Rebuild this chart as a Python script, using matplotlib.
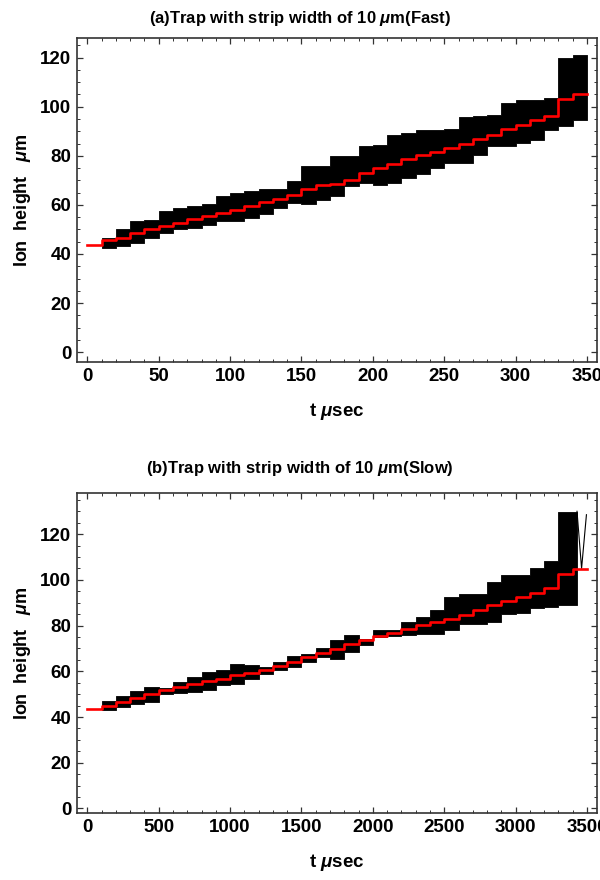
import numpy as np
import matplotlib
matplotlib.use("Agg")
import matplotlib.pyplot as plt
from matplotlib.ticker import MultipleLocator

plt.rcParams['font.family'] = ['Liberation Sans', 'DejaVu Sans']
plt.rcParams['font.weight'] = 'bold'
plt.rcParams['mathtext.fontset'] = 'custom'
plt.rcParams['mathtext.it'] = 'Liberation Sans:italic:bold'
plt.rcParams['mathtext.rm'] = 'Liberation Sans:bold'
plt.rcParams['mathtext.bf'] = 'Liberation Sans:bold'

# ---------------- Panel (a): fast transport ----------------
a_step_t = [0, 10, 20, 30, 40, 50, 60, 70, 80, 90, 100, 110, 120, 130, 140, 150, 160,
            170, 180, 190, 200, 210, 220, 230, 240, 250, 260, 270, 280, 290, 300,
            310, 320, 330, 340, 350]
a_step_v = [43.5, 45.6, 46.7, 48.4, 50.0, 51.5, 52.7, 54.1, 55.4, 56.8, 58.1, 59.5,
            61.0, 62.6, 64.2, 66.3, 68.0, 68.5, 70.3, 73.2, 75.1, 76.8, 78.5, 80.2,
            81.7, 83.2, 85.0, 86.9, 88.6, 90.9, 92.7, 94.4, 96.1, 103.1, 105.3, 105.3]
# oscillation envelope per 10 us segment (10..350)
a_env_t = [10, 20, 30, 40, 50, 60, 70, 80, 90, 100, 110, 120, 130, 140, 150, 160, 170,
           180, 190, 200, 210, 220, 230, 240, 250, 260, 270, 280, 290, 300, 310, 320,
           330, 340, 350]
a_env_lo = [42.5, 43.2, 44.6, 46.6, 48.4, 50.0, 50.4, 52.0, 53.4, 53.4, 54.8, 56.1,
            58.8, 60.9, 60.2, 62.2, 63.5, 67.6, 69.0, 68.3, 69.0, 71.0, 72.4, 75.1,
            77.1, 77.1, 80.5, 83.9, 83.9, 85.2, 86.6, 90.6, 92.0, 94.7]
a_env_hi = [46.6, 50.0, 53.4, 54.0, 57.4, 58.8, 59.5, 60.2, 63.5, 64.9, 65.6, 66.3,
            66.3, 69.6, 75.7, 75.7, 79.8, 79.8, 84.1, 84.6, 88.6, 89.3, 90.6, 90.6,
            90.9, 95.8, 96.3, 96.7, 101.5, 102.8, 102.8, 103.4, 119.8, 121.1]

# ---------------- Panel (b): slow transport ----------------
b_step_t = [0, 100, 200, 300, 400, 500, 600, 700, 800, 900, 1000, 1100, 1200, 1300,
            1400, 1500, 1600, 1700, 1800, 1900, 2000, 2100, 2200, 2300, 2400, 2500,
            2600, 2700, 2800, 2900, 3000, 3100, 3200, 3300, 3400, 3500]
b_step_v = [43.5, 44.9, 46.6, 48.4, 50.0, 51.7, 53.2, 54.6, 55.8, 56.8, 58.3, 59.3,
            60.4, 62.2, 64.1, 66.3, 68.2, 69.9, 71.8, 73.5, 75.4, 76.7, 78.3, 80.1,
            81.5, 83.0, 84.7, 86.6, 88.8, 90.6, 92.4, 94.3, 96.3, 102.6, 104.8, 104.8]
b_env_t = [100, 200, 300, 400, 500, 600, 700, 800, 900, 1000, 1100, 1200, 1300, 1400,
           1500, 1600, 1700, 1800, 1900, 2000, 2100, 2200, 2300, 2400, 2500, 2600,
           2700, 2800, 2900, 3000, 3100, 3200, 3300, 3430]
b_env_lo = [43.0, 44.4, 45.9, 46.6, 50.0, 50.3, 51.0, 52.0, 53.9, 54.3, 56.8, 58.7,
            60.4, 61.9, 64.1, 66.3, 65.5, 68.4, 71.3, 75.0, 75.3, 75.7, 76.4, 76.4,
            77.9, 80.8, 80.8, 81.5, 85.2, 85.4, 87.8, 88.0, 89.0]
b_env_hi = [47.1, 49.1, 51.4, 53.2, 52.5, 55.4, 57.5, 59.7, 60.4, 63.1, 62.6, 61.9,
            64.1, 66.5, 67.7, 70.2, 73.5, 75.7, 74.3, 77.9, 78.2, 81.5, 83.7, 86.6,
            92.4, 93.6, 93.6, 99.0, 102.3, 102.3, 105.2, 108.4, 129.5]
b_tail_t = [3430, 3462, 3496]
b_tail_v = [130.0, 105.0, 128.5]

fig = plt.figure(figsize=(6.0, 8.8), dpi=100)
ax_a = fig.add_axes([77/600, 1-362/880, 520/600, 324/880])
ax_b = fig.add_axes([77/600, 1-813/880, 520/600, 320/880])


def style(ax, xmaj, xmin):
    ax.xaxis.set_major_locator(MultipleLocator(xmaj))
    ax.xaxis.set_minor_locator(MultipleLocator(xmin))
    ax.yaxis.set_major_locator(MultipleLocator(20))
    ax.yaxis.set_minor_locator(MultipleLocator(5))
    ax.tick_params(which='both', direction='in', top=True, right=True,
                   color='#333333', labelsize=13.5, pad=4)
    ax.tick_params(which='major', length=4.5, width=0.9)
    ax.tick_params(which='minor', length=2.5, width=0.7)
    for sp in ax.spines.values():
        sp.set_color('#333333')
        sp.set_linewidth(1.2)
    for lab in ax.get_xticklabels() + ax.get_yticklabels():
        lab.set_fontweight('bold')


def draw(ax, env_t, lo, hi, st, sv):
    ax.fill_between(env_t, list(lo) + [lo[-1]], list(hi) + [hi[-1]], step='post',
                    color='black', linewidth=0.6, edgecolor='black')
    ax.step(st, sv, where='post', color='red', linewidth=1.9, zorder=3)


draw(ax_a, a_env_t, a_env_lo, a_env_hi, a_step_t, a_step_v)
ax_a.set_xlim(-7.2, 357)
ax_a.set_ylim(-4, 128)
style(ax_a, 50, 10)

draw(ax_b, b_env_t, b_env_lo, b_env_hi, b_step_t, b_step_v)
ax_b.plot(b_tail_t, b_tail_v, color='black', linewidth=0.8, zorder=2)
ax_b.set_xlim(-72, 3570)
ax_b.set_ylim(-2, 138)
style(ax_b, 500, 100)

for ax in (ax_a, ax_b):
    ax.set_xlabel(r't $\mu$sec', fontsize=13.5, fontweight='bold', labelpad=12)
    ax.set_ylabel(r'Ion  height   $\mu$m', fontsize=13, fontweight='bold', labelpad=5)

fig.text(0.5, 1-18/880, r'(a)Trap with strip width of 10 $\mu$m(Fast)',
         ha='center', va='center', fontsize=12, fontweight='bold')
fig.text(0.5, 1-468/880, r'(b)Trap with strip width of 10 $\mu$m(Slow)',
         ha='center', va='center', fontsize=12, fontweight='bold')

fig.savefig('out.png', dpi=100)
